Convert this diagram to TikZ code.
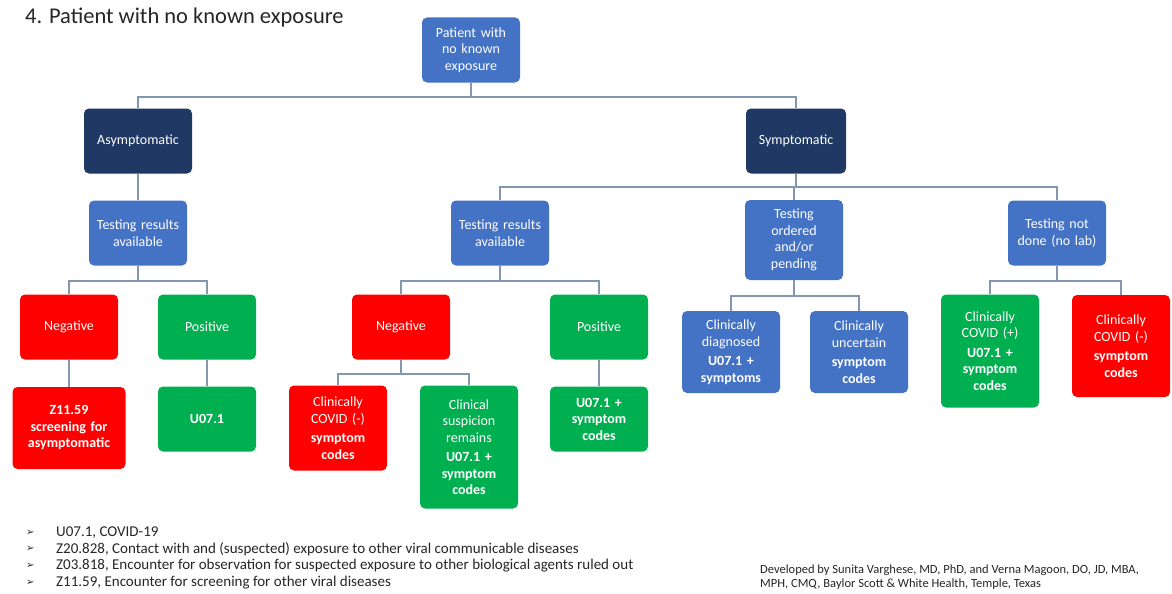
\documentclass[tikz,border=0pt]{standalone}
\usepackage{fontspec}
\setmainfont{Carlito}
\newfontfamily\symfont{DejaVu Sans}
\definecolor{cblue}{HTML}{4472C4}
\definecolor{cnavy}{HTML}{1F3864}
\definecolor{cred}{HTML}{FF0000}
\definecolor{cgreen}{HTML}{00B050}
\definecolor{cline}{HTML}{8497B0}
\definecolor{ctext}{HTML}{262626}
\tikzset{
  bx/.style={rounded corners=5pt, text=white, align=center, inner sep=1pt,
     text width=94pt, minimum width=98pt, minimum height=65pt,
     font=\fontsize{14}{16.5}\selectfont},
  bluebox/.style={bx, fill=cblue},
  navybox/.style={bx, fill=cnavy},
  redbox/.style={bx, fill=cred},
  greenbox/.style={bx, fill=cgreen},
  conn/.style={draw=cline, line width=1.2pt},
  legend/.style={anchor=west, text=ctext, font=\fontsize{15}{16}\selectfont, inner sep=0pt},
}
\begin{document}
\begin{tikzpicture}[x=1pt,y=-1pt]
\useasboundingbox[fill=white] (0,0) rectangle (1172,594);
\node[anchor=west, text=ctext, font=\fontsize{22.5}{26}\selectfont, inner sep=0pt] (title) at (25,18) {4. Patient with no known exposure};

% level 0
\node[bluebox] (root) at (471,50) {Patient with\\ no known\\ exposure};
% level 1
\node[navybox, minimum width=108pt, text width=104pt] (asym) at (138,141) {Asymptomatic};
\node[navybox, minimum width=100pt] (sym) at (796,141) {Symptomatic};
% level 2
\node[bluebox] (tA) at (138,233) {Testing results\\ available};
\node[bluebox] (tB) at (500,233) {Testing results\\ available};
\node[bluebox, minimum height=80pt] (tC) at (794,240) {Testing\\ ordered\\ and/or\\ pending};
\node[bluebox] (tD) at (1057,233) {Testing not\\ done (no lab)};
% level 3 left
\node[redbox] (negA) at (69,327) {Negative};
\node[greenbox] (posA) at (207,327) {Positive};
\node[redbox, minimum width=113pt, text width=110pt, minimum height=82pt] (zA) at (69,428) {\textbf{Z11.59}\\ \textbf{screening for}\\ \textbf{asymptomatic}};
\node[greenbox] (uA) at (207,419) {\textbf{U07.1}};
% level 3 middle
\node[redbox] (negB) at (401,327) {Negative};
\node[greenbox] (posB) at (599,327) {Positive};
\node[redbox, minimum height=85pt] (cnB) at (338,428) {Clinically\\ COVID (-)\\[3pt] \textbf{symptom}\\ \textbf{codes}};
\node[greenbox, minimum height=123pt] (csB) at (469,447) {Clinical\\ suspicion\\ remains\\[3pt] \textbf{U07.1 +}\\ \textbf{symptom}\\ \textbf{codes}};
\node[greenbox] (uB) at (599,419) {\textbf{U07.1 +}\\ \textbf{symptom}\\ \textbf{codes}};
% level 3 ordered
\node[bluebox, minimum height=82pt] (cdC) at (731,352) {Clinically\\ diagnosed\\[3pt] \textbf{U07.1 +}\\ \textbf{symptoms}};
\node[bluebox, minimum height=82pt] (cuC) at (859,352) {Clinically\\ uncertain\\[3pt] \textbf{symptom}\\ \textbf{codes}};
% level 3 not done
\node[greenbox, minimum height=113pt] (cpD) at (990,351) {Clinically\\ COVID (+)\\[3pt] \textbf{U07.1 +}\\ \textbf{symptom}\\ \textbf{codes}};
\node[redbox, minimum height=102pt] (cnD) at (1121,346) {Clinically\\ COVID (-)\\[3pt] \textbf{symptom}\\ \textbf{codes}};

% connectors
\coordinate (j0) at (471,97);
\draw[conn] (root.south) -- (j0) -| (asym.north);
\draw[conn] (j0) -| (sym.north);
\draw[conn] (asym.south) -- (tA.north);
\coordinate (j1) at (796,187);
\draw[conn] (sym.south) -- (j1) -| (tB.north);
\draw[conn] (j1) -| (tD.north);
\draw[conn] (j1) -| (tC.north);
\coordinate (jA) at (138,281);
\draw[conn] (tA.south) -- (jA) -| (negA.north);
\draw[conn] (jA) -| (posA.north);
\draw[conn] (negA.south) -- (zA.north);
\draw[conn] (posA.south) -- (uA.north);
\coordinate (jB) at (500,281);
\draw[conn] (tB.south) -- (jB) -| (negB.north);
\draw[conn] (jB) -| (posB.north);
\coordinate (jN) at (401,374);
\draw[conn] (negB.south) -- (jN) -| (cnB.north);
\draw[conn] (jN) -| (csB.north);
\draw[conn] (posB.south) -- (uB.north);
\coordinate (jC) at (794,296);
\draw[conn] (tC.south) -- (jC) -| (cdC.north);
\draw[conn] (jC) -| (cuC.north);
\coordinate (jD) at (1057,281);
\draw[conn] (tD.south) -- (jD) -| (cpD.north);
\draw[conn] (jD) -| (cnD.north);

% legend
\foreach \yy/\txt [count=\i] in {533/{U07.1, COVID-19},
  549/{Z20.828, Contact with and (suspected) exposure to other viral communicable diseases},
  566/{Z03.818, Encounter for observation for suspected exposure to other biological agents ruled out},
  583/{Z11.59, Encounter for screening for other viral diseases}}{
  \node[legend] (b\i) at (26,\yy) {\symfont\fontsize{10}{12}\selectfont ➢};
  \node[legend] (l\i) at (56,\yy) {\txt};
}
\node[legend, font=\fontsize{12.5}{14}\selectfont, align=left, anchor=north west] (credit) at (760,565) {Developed by Sunita Varghese, MD, PhD, and Verna Magoon, DO, JD, MBA,\\ MPH, CMQ, Baylor Scott \& White Health, Temple, Texas};
\end{tikzpicture}
\end{document}
